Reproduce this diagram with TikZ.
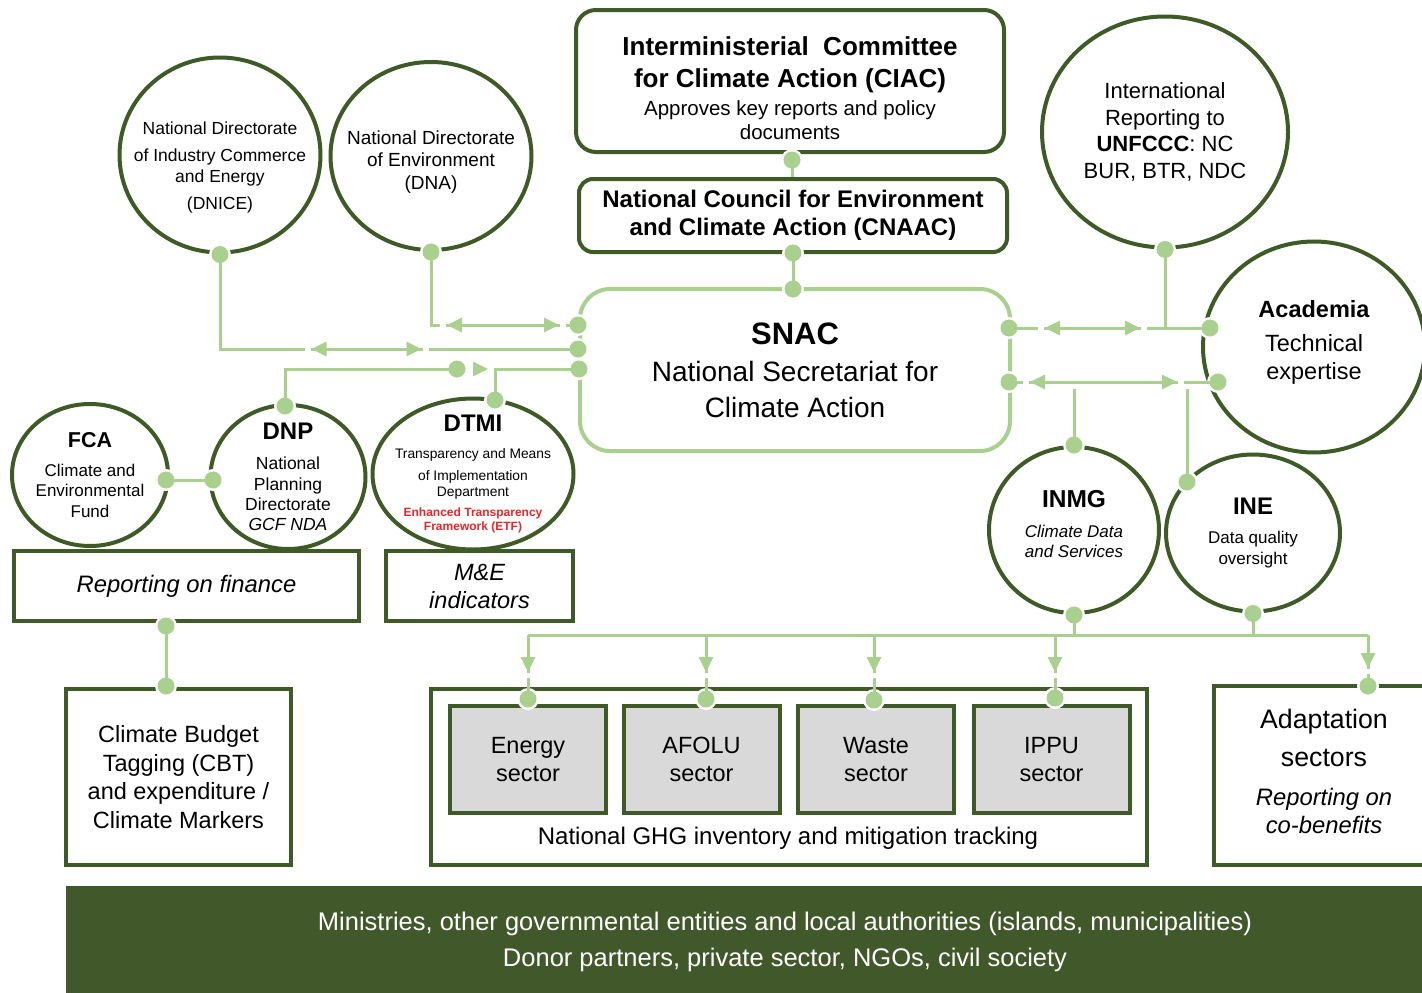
\documentclass[tikz,border=0pt]{standalone}
\usepackage{fontspec}
\setmainfont{Liberation Sans}
\usetikzlibrary{arrows.meta,shapes.geometric,decorations.markings}

\definecolor{dkgreen}{HTML}{3D5A27}
\definecolor{ltgreen}{HTML}{A9D08E}
\definecolor{sectgrey}{HTML}{D9D9D9}
\definecolor{bandgreen}{HTML}{41582A}
\definecolor{etfred}{HTML}{E8262A}

\newcommand\fsz[1]{\fontsize{#1}{#1}\selectfont}
\newcommand\lead[1]{\fontsize{12}{#1}\selectfont}

\begin{document}
\begin{tikzpicture}[x=1pt,y=-1pt,
    >={Triangle[length=15pt,width=14pt]},
    org/.style={ellipse,draw=dkgreen,line width=4pt,inner sep=0pt},
    txt/.style={align=center,inner sep=0pt},
    panel/.style={rectangle,draw=dkgreen,line width=4pt,align=center,inner sep=0pt},
    sector/.style={panel,fill=sectgrey,minimum width=156pt,minimum height=107pt,font=\lead{28}},
    link/.style={ltgreen,line width=3pt},
    twoway/.style 2 args={postaction={decorate,decoration={markings,
        mark=at position #1 with {\arrowreversed{>}\fill[white] (-1,-3) rectangle (-7,3);},
        mark=at position #2 with {\arrow{>}\fill[white] (1,-3) rectangle (7,3);}}}},
    drop/.style={postaction={decorate,decoration={markings,
        mark=at position #1 with {\arrow{>}\fill[white] (1,-3) rectangle (6,3);}}}}]

\fill[white] (0,0) rectangle (1422,993);
\useasboundingbox (0,0) rectangle (1422,993);

% governance chain
\node[panel,rounded corners=20pt,minimum width=428pt,minimum height=142pt] (ciac) at (790,81) {};
\node[txt,font=\lead{24}] (ciac-txt) at (790,88)
  {{\fsz{26}\bfseries Interministerial\ \ Committee}\\[8pt]{\fsz{26}\bfseries for Climate Action (CIAC)}\\[4pt]{\fsz{20.5}Approves key reports and policy}\\{\fsz{20.5}documents}};
\node[panel,rounded corners=14pt,minimum width=428pt,minimum height=73pt,font=\lead{28}] (cnaac) at (793,215.5)
  {{\fsz{24}\bfseries National Council for Environment}\\{\fsz{24}\bfseries and Climate Action (CNAAC)}};
\node[panel,draw=ltgreen,rounded corners=30pt,minimum width=430pt,minimum height=162pt,font=\lead{36}] (snac) at (795,370)
  {{\fsz{31}\bfseries SNAC}\\[1pt]{\fsz{28}National Secretariat for}\\{\fsz{28}Climate Action}};

% institutions
\node[org,minimum width=201pt,minimum height=195pt] (dnice) at (220,155) {};
\node[txt,font=\lead{24}] (dnice-txt) at (220,167)
  {{\fsz{17.5}National Directorate}\\[3pt]{\fsz{17.5}of Industry Commerce}\\[-3pt]{\fsz{17.5}and Energy}\\[3pt]{\fsz{17.5}(DNICE)}};
\node[org,minimum width=201pt,minimum height=188pt] (dna) at (431,156) {};
\node[txt,font=\lead{22.5}] (dna-txt) at (431,162)
  {{\fsz{19}National Directorate}\\{\fsz{19}of Environment}\\{\fsz{19}(DNA)}};
\node[org,minimum width=246pt,minimum height=231pt] (unfccc) at (1165,132) {};
\node[txt,font=\lead{26.7}] (unfccc-txt) at (1165,132)
  {{\fsz{22}International}\\{\fsz{22}Reporting to}\\{\fsz{22}\textbf{UNFCCC}: NC}\\{\fsz{22}BUR, BTR, NDC}};
\node[org,minimum width=222pt,minimum height=211pt] (academia) at (1314,347) {};
\node[txt,font=\lead{28}] (academia-txt) at (1314,342)
  {{\fsz{23.5}\bfseries Academia}\\[6pt]{\fsz{23.5}Technical}\\{\fsz{23.5}expertise}};
\node[org,minimum width=156pt,minimum height=142pt] (fca) at (90,475) {};
\node[txt,font=\lead{20.5}] (fca-txt) at (90,475)
  {{\fsz{21.5}\bfseries FCA}\\[8pt]{\fsz{17}Climate and}\\{\fsz{17}Environmental}\\{\fsz{17}Fund}};
\node[org,minimum width=155pt,minimum height=144pt] (dnp) at (288,477) {};
\node[txt,font=\lead{20.3}] (dnp-txt) at (288,477)
  {{\fsz{24}\bfseries DNP}\\[10pt]{\fsz{17.5}National}\\{\fsz{17.5}Planning}\\{\fsz{17.5}Directorate}\\{\fsz{17.5}\itshape GCF NDA}};
\node[org,minimum width=201pt,minimum height=151pt] (dtmi) at (473,474) {};
\node[txt,font=\lead{16}] (dtmi-txt) at (473,474)
  {{\fsz{24}\bfseries DTMI}\\[11pt]{\fsz{13.8}Transparency and Means}\\[6pt]{\fsz{13.8}of Implementation}\\{\fsz{13.8}Department}\\[4pt]{\fsz{12}\bfseries\color{etfred}Enhanced Transparency}\\[-2.5pt]{\fsz{12}\bfseries\color{etfred}Framework (ETF)}};
\node[org,minimum width=170pt,minimum height=166pt] (inmg) at (1074,530) {};
\node[txt,font=\lead{20}] (inmg-txt) at (1074,524.5)
  {{\fsz{24.5}\bfseries INMG}\\[10pt]{\fsz{17}\itshape Climate Data}\\{\fsz{17}\itshape and Services}};
\node[org,minimum width=174pt,minimum height=157pt] (ine) at (1253,533) {};
\node[txt,font=\lead{21}] (ine-txt) at (1253,533)
  {{\fsz{24}\bfseries INE}\\[8pt]{\fsz{17}Data quality}\\{\fsz{17}oversight}};

% reporting boxes
\node[panel,minimum width=345pt,minimum height=70pt] (finance) at (186.5,586) {\fsz{23.8}\itshape Reporting on finance};
\node[panel,minimum width=187pt,minimum height=70pt,font=\lead{28}] (mande) at (479.5,586)
  {{\fsz{23.5}\itshape M\&E}\\{\fsz{23.5}\itshape indicators}};
\node[panel,minimum width=225pt,minimum height=176pt,font=\lead{28.5}] (cbt) at (178.5,777)
  {{\fsz{23.5}Climate Budget}\\{\fsz{23.5}Tagging (CBT)}\\{\fsz{23.5}and expenditure /}\\{\fsz{23.5}Climate Markers}};
\node[panel,minimum width=716pt,minimum height=176pt] (ghg) at (789,777) {};
\node[txt] (ghg-txt) at (788,838) {\fsz{24}National GHG inventory and mitigation tracking};
\node[sector] (energy) at (528,759.5) {{\fsz{23.5}Energy}\\{\fsz{23.5}sector}};
\node[sector] (afolu) at (701.5,759.5) {{\fsz{23.5}AFOLU}\\{\fsz{23.5}sector}};
\node[sector] (waste) at (876,759.5) {{\fsz{23.5}Waste}\\{\fsz{23.5}sector}};
\node[sector] (ippu) at (1051.5,759.5) {{\fsz{23.5}IPPU}\\{\fsz{23.5}sector}};
\node[panel,minimum width=224pt,minimum height=179pt] (adapt) at (1326,775.5) {};
\node[txt,font=\lead{28}] (adapt-txt) at (1324,771)
  {{\fsz{26.7}Adaptation}\\[10pt]{\fsz{26.7}sectors}\\[11pt]{\fsz{23.8}\itshape Reporting on}\\{\fsz{23.8}\itshape co-benefits}};

% stakeholders band
\fill[bandgreen] (66,886) rectangle (1422,993);
\node[txt,text=white,font=\lead{36}] (partners) at (785,942)
  {{\fsz{25.5}Ministries, other governmental entities and local authorities (islands, municipalities)}\\{\fsz{25.5}Donor partners, private sector, NGOs, civil society}};

% joints
\coordinate (ciac-j) at (792,160);
\coordinate (cnaac-j) at (793,253);
\coordinate (snac-t) at (793,289);
\coordinate (snac-l1) at (578,325);
\coordinate (snac-l2) at (578,349);
\coordinate (snac-l3) at (579,369);
\coordinate (snac-r1) at (1009,328);
\coordinate (snac-r2) at (1009,382);
\coordinate (dnice-j) at (dnice.south);
\coordinate (dna-j) at (dna.south);
\coordinate (unfccc-j) at (unfccc.south);
\coordinate (acad-j1) at (1210,328);
\coordinate (acad-j2) at (1218,382);
\coordinate (fca-j) at (166,480);
\coordinate (dnp-l) at (213,480);
\coordinate (dnp-t) at (285,406);
\coordinate (dnp-end) at (457,369);
\coordinate (dtmi-t) at (495,400);
\coordinate (inmg-t) at (inmg.north);
\coordinate (inmg-b) at (inmg.south);
\coordinate (ine-l) at (1187,482);
\coordinate (ine-b) at (ine.south);
\coordinate (fin-j) at (166,626);
\coordinate (cbt-j) at (166,686);
\coordinate (energy-j) at (528,699);
\coordinate (afolu-j) at (706,699);
\coordinate (waste-j) at (874,700);
\coordinate (ippu-j) at (1055,698);
\coordinate (adapt-j) at (1368,686);
\coordinate (bus) at (0,635);

\foreach \j in {ciac-j,cnaac-j,snac-t,snac-l1,snac-l2,snac-l3,snac-r1,snac-r2,dnice-j,dna-j,unfccc-j,acad-j1,acad-j2,fca-j,dnp-l,dnp-t,dtmi-t,inmg-t,inmg-b,ine-l,ine-b,fin-j,cbt-j,energy-j,afolu-j,waste-j,ippu-j,adapt-j}
  \fill[white] (\j) circle (11pt);

% connectors
\draw[link] (ciac-j) -- (ciac-j |- cnaac.north);
\draw[link] (cnaac-j) -- (snac-t);
\draw[link,twoway={89pt}{201pt}] (dna-j) |- (snac-l1);
\draw[link,twoway={186pt}{296pt}] (dnice-j) |- (snac-l2);
\draw[link] (dnp-t) |- (dnp-end);
\draw[link,->,shorten <=16pt,shorten >=7pt] (dnp-end) -- (dtmi-t |- dnp-end);
\draw[link] (dtmi-t) |- (snac-l3);
\draw[link] (fca-j) -- (dnp-l);
\draw[link,twoway={36pt}{131pt}] (snac-r1) -- (acad-j1);
\draw[link] (unfccc-j) -- (unfccc-j |- snac-r1);
\draw[link,twoway={21pt}{168pt}] (snac-r2) -- (acad-j2);
\draw[link] (inmg-t |- snac-r2) ++(0,7) -- (inmg-t);
\draw[link] (ine-l |- snac-r2) ++(0,7) -- (ine-l);
\draw[link] (inmg-b) -- (inmg-b |- bus);
\draw[link] (ine-b) -- (ine-b |- bus);
\draw[link] (energy-j |- bus) -- (adapt-j |- bus);
\foreach \s in {energy,afolu,waste,ippu}
  \draw[link,drop=37pt] (\s-j |- bus) -- (\s-j);
\draw[link,drop=33pt] (adapt-j |- bus) -- (adapt-j);
\draw[link] (fin-j) -- (cbt-j);

\foreach \j in {ciac-j,cnaac-j,snac-t,snac-l1,snac-l2,snac-l3,snac-r1,snac-r2,dnice-j,dna-j,unfccc-j,acad-j1,acad-j2,fca-j,dnp-l,dnp-t,dnp-end,dtmi-t,inmg-t,inmg-b,ine-l,ine-b,fin-j,cbt-j,energy-j,afolu-j,waste-j,ippu-j,adapt-j}
  \fill[ltgreen] (\j) circle (8.5pt);
\end{tikzpicture}
\end{document}
